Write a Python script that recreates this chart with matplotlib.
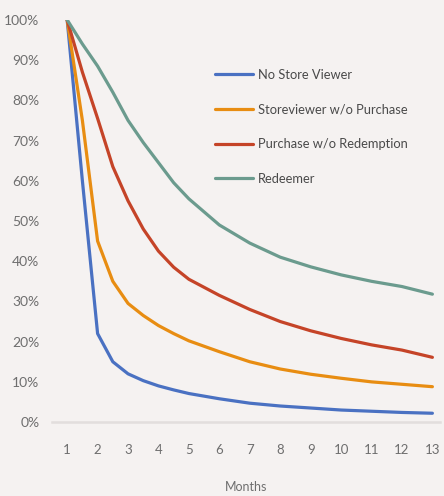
import matplotlib
matplotlib.use("Agg")
import matplotlib.pyplot as plt
from matplotlib.ticker import PercentFormatter

# retention by cohort, share still active per month (half steps early on,
# where the curves drop fastest)
months = [1, 1.5, 2, 2.5, 3, 3.5, 4, 4.5, 5, 6, 7, 8, 9, 10, 11, 12, 13]
no_store_viewer = [100, 60, 22, 15, 12, 10.3, 9.0, 8.0, 7.1, 5.8, 4.7, 4.0, 3.5, 3.0, 2.7, 2.4, 2.2]
storeviewer_no_purchase = [100, 75, 45, 35, 29.5, 26.5, 24, 22, 20.2, 17.5, 15.0, 13.2, 11.9, 10.9, 10.0, 9.4, 8.8]
purchase_no_redemption = [100, 87, 75.5, 63.5, 55, 48, 42.5, 38.5, 35.5, 31.5, 28, 25, 22.7, 20.8, 19.2, 17.9, 16.1]
redeemer = [100, 94, 88.5, 82, 75, 69.5, 64.5, 59.5, 55.5, 49, 44.5, 41, 38.6, 36.6, 35, 33.7, 31.8]

series_names = ["No Store Viewer", "Storeviewer w/o Purchase",
                "Purchase w/o Redemption", "Redeemer"]
series_colors = ["#4a71c2", "#e88d12", "#c54428", "#6b9b8e"]
xticks = list(range(1, 14))
yticks = list(range(0, 101, 10))

bg = "#f5f2f1"
plt.rcParams["font.family"] = ["Lato", "DejaVu Sans"]

fig = plt.figure(figsize=(4.44, 4.96), dpi=100, facecolor=bg)
ax = fig.add_axes([0.117, 0.149, 0.874, 0.811], facecolor=bg)

all_series = [no_store_viewer, storeviewer_no_purchase, purchase_no_redemption, redeemer]
for vals, name, col in zip(all_series, series_names, series_colors):
    ax.plot(months, vals, color=col, lw=2.3, label=name,
            solid_capstyle="round", solid_joinstyle="round")

ax.set_xlim(0.5, 13.25)
ax.set_ylim(0, 100)
ax.set_xticks(xticks)
ax.set_yticks(yticks)
ax.yaxis.set_major_formatter(PercentFormatter(decimals=0))

for s in ["top", "right", "left"]:
    ax.spines[s].set_visible(False)
ax.spines["bottom"].set_color("#e2dedd")
ax.spines["bottom"].set_linewidth(1.8)

ax.tick_params(axis="both", length=0, labelcolor="#6e6e6e")
ax.tick_params(axis="y", pad=9, labelsize=10)
ax.tick_params(axis="x", pad=16, labelsize=9.5)

ax.set_xlabel("Months", fontsize=9, color="#6e6e6e", labelpad=18)

leg = ax.legend(loc="upper left", bbox_to_anchor=(0.42, 0.878), frameon=False,
                fontsize=9.3, handlelength=2.95, handletextpad=0.4,
                labelspacing=1.75, borderaxespad=0, borderpad=0)
for t in leg.get_texts():
    t.set_color("#4a4a4a")

fig.savefig("out.png", dpi=100, facecolor=bg)
